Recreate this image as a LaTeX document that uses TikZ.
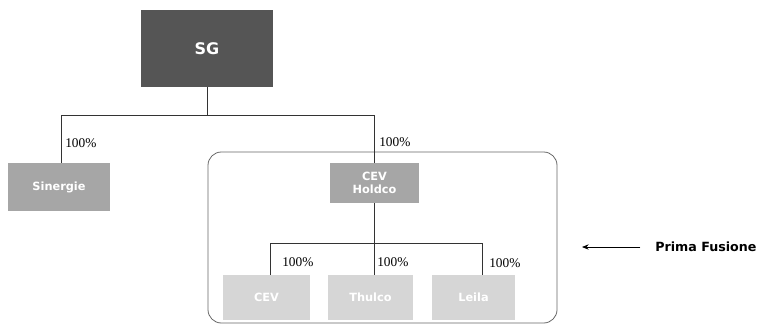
\documentclass[tikz,border=0pt]{standalone}
\usepackage{fontspec}
\setmainfont{Liberation Serif}
\newfontfamily\boxfont{DejaVu Sans}
\usepackage{xcolor}
\usetikzlibrary{arrows.meta,positioning,calc}

\definecolor{topgray}{HTML}{555555}
\definecolor{midgray}{HTML}{A6A6A6}
\definecolor{lowgray}{HTML}{D6D6D6}

\begin{document}
\begin{tikzpicture}[x=0.75pt,y=-0.75pt,
  company/.style={fill=#1,inner sep=0pt,align=center,text=white,font=\boxfont\bfseries\fontsize{8.5}{10}\selectfont},
  share/.style={anchor=west,inner sep=0pt,font=\fontsize{10}{12}\selectfont},
  link/.style={draw=black!80,line width=0.6pt}]
\useasboundingbox (0,0) rectangle (766,329);

% Companies
\node[company=topgray,minimum width=99pt,minimum height=57.75pt,font=\boxfont\bfseries\fontsize{12}{14}\selectfont] (sg) at (207,48.5) {SG};
\node[company=midgray,minimum width=76.5pt,minimum height=36pt] (sinergie) at (59,187) {Sinergie};
\node[company=midgray,minimum width=66.75pt,minimum height=30pt] (holdco) at (374.5,183) {CEV\\Holdco};
\node[company=lowgray,minimum width=65.25pt,minimum height=33.75pt] (cev) at (266.5,297.5) {CEV};
\node[company=lowgray,minimum width=63.75pt,minimum height=33.75pt] (thulco) at (370.5,297.5) {Thulco};
\node[company=lowgray,minimum width=62.25pt,minimum height=33.75pt] (leila) at (473.5,297.5) {Leila};

% Merger perimeter
\draw[black!60,line width=0.6pt,rounded corners=10pt] (208,152) rectangle (557,323);

% Ownership links
\coordinate (top) at (207,115);
\coordinate (low) at (374.5,243);
\draw[link] (sg.south) -- (top);
\draw[link] (top) -| ([xshift=1.5pt]sinergie.north);
\draw[link] (top) -| (holdco.north);
\draw[link] (holdco.south) -- (low);
\draw[link] (low) -| ([xshift=2.6pt]cev.north);
\draw[link] (low) -- (low |- thulco.north);
\draw[link] (low) -| ([xshift=7pt]leila.north);

% Percentages
\node[share] (p1) at (65,143) {100\%};
\node[share] (p2) at (379,142) {100\%};
\node[share] (p3) at (282,262) {100\%};
\node[share] (p4) at (377,262) {100\%};
\node[share] (p5) at (489,263) {100\%};

% Label
\node[anchor=west,inner sep=0pt,font=\boxfont\bfseries\fontsize{9.5}{11}\selectfont] (fusione) at (655,247) {Prima Fusione};
\coordinate (tip) at (582,247);
\draw[line width=0.6pt,-{Stealth[length=5pt,width=4pt]}] ([xshift=-11pt]fusione.west) -- (tip);

\end{tikzpicture}
\end{document}
